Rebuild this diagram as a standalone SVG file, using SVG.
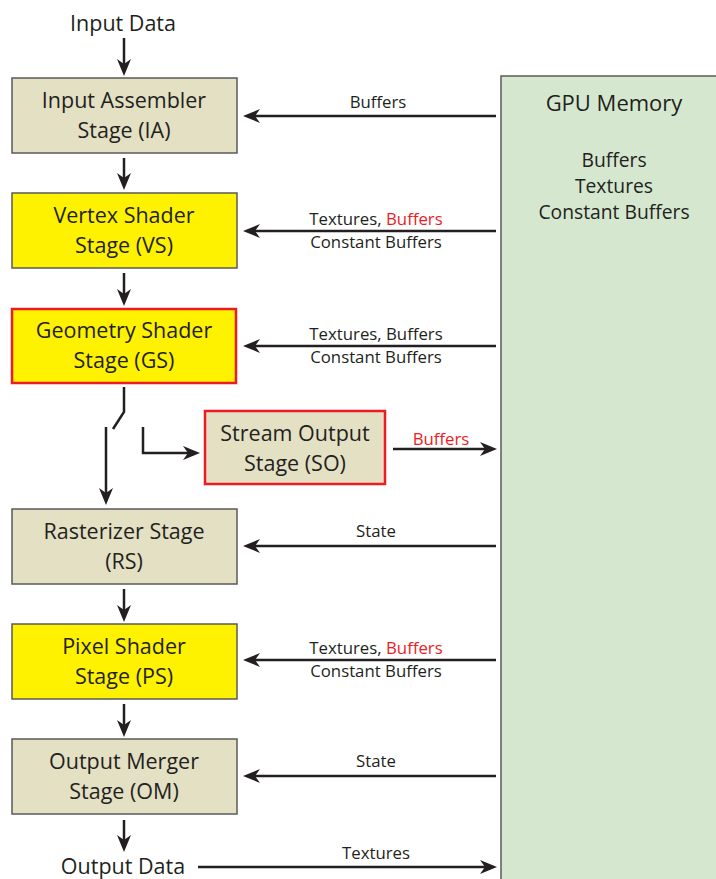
<svg xmlns="http://www.w3.org/2000/svg" width="716" height="879" viewBox="0 0 716 879">
  <style>
    text { font-family: "Open Sans", "Noto Sans", sans-serif; fill: #231f20; }
    .box { stroke: #5a5a5a; stroke-width: 1.5; }
    .tan { fill: #e3e0c4; }
    .yel { fill: #fff200; }
    .redb { stroke: #ed1c24; stroke-width: 2.5; }
    .t20 { font-size: 21.5px; text-anchor: middle; }
    .t16 { font-size: 16.8px; text-anchor: middle; }
    .mem { font-size: 19.3px; text-anchor: middle; }
    .red { fill: #ed1c24; }
    .ln { stroke: #231f20; stroke-width: 2.5; fill: none; }
    .arr { marker-end: url(#head); }
  </style>
  <defs>
    <marker id="head" markerUnits="userSpaceOnUse" markerWidth="18" markerHeight="16" viewBox="0 0 18 16" refX="10" refY="8" orient="auto">
      <path d="M0,1 L17,8 L0,15 L5,8 Z" fill="#231f20"/>
    </marker>
  </defs>

  <!-- memory block -->
  <g id="gpu-memory">
    <rect x="501" y="76" width="225" height="815" fill="#d5e8cf" stroke="#5a5a5a" stroke-width="1.5"/>
    <text x="614" y="111" style="font-size:22px;text-anchor:middle">GPU Memory</text>
    <text class="mem" x="614" y="167">Buffers</text>
    <text class="mem" x="614" y="193">Textures</text>
    <text class="mem" x="614" y="219">Constant Buffers</text>
  </g>

  <!-- pipeline stages -->
  <g id="input-data">
    <text class="t20" x="123" y="31">Input Data</text>
  </g>
  <g id="ia">
    <rect class="box tan" x="12" y="78" width="225" height="75"/>
    <text class="t20" x="124" y="108">Input Assembler</text>
    <text class="t20" x="124" y="138">Stage (IA)</text>
  </g>
  <g id="vs">
    <rect class="box yel" x="12" y="193" width="225" height="75"/>
    <text class="t20" x="124" y="223">Vertex Shader</text>
    <text class="t20" x="124" y="253">Stage (VS)</text>
  </g>
  <g id="gs">
    <rect class="yel redb" x="12" y="309" width="224" height="74"/>
    <text class="t20" x="124" y="338">Geometry Shader</text>
    <text class="t20" x="124" y="368">Stage (GS)</text>
  </g>
  <g id="so">
    <rect class="tan redb" x="205" y="411" width="180" height="73"/>
    <text class="t20" x="295" y="441">Stream Output</text>
    <text class="t20" x="295" y="471">Stage (SO)</text>
  </g>
  <g id="rs">
    <rect class="box tan" x="12" y="509" width="225" height="75"/>
    <text class="t20" x="124" y="539">Rasterizer Stage</text>
    <text class="t20" x="124" y="569">(RS)</text>
  </g>
  <g id="ps">
    <rect class="box yel" x="12" y="624" width="225" height="75"/>
    <text class="t20" x="124" y="654">Pixel Shader</text>
    <text class="t20" x="124" y="684">Stage (PS)</text>
  </g>
  <g id="om">
    <rect class="box tan" x="12" y="739" width="225" height="75"/>
    <text class="t20" x="124" y="769">Output Merger</text>
    <text class="t20" x="124" y="799">Stage (OM)</text>
  </g>
  <g id="output-data">
    <text class="t20" x="123" y="874">Output Data</text>
  </g>

  <!-- connectors -->
  <g id="connectors">
    <!-- vertical flow -->
    <line class="ln arr" x1="124" y1="38" x2="124" y2="69"/>
    <line class="ln arr" x1="124" y1="158" x2="124" y2="183"/>
    <line class="ln arr" x1="124" y1="273" x2="124" y2="299"/>
    <line class="ln arr" x1="124" y1="589" x2="124" y2="615"/>
    <line class="ln arr" x1="124" y1="704" x2="124" y2="730"/>
    <line class="ln arr" x1="124" y1="820" x2="124" y2="845"/>

    <!-- stream-output switch -->
    <polyline class="ln" points="124,387 124,412 113,429"/>
    <line class="ln arr" x1="106" y1="427" x2="106" y2="498"/>
    <polyline class="ln arr" points="143,427 143,453 193,453"/>

    <!-- memory reads -->
    <line class="ln arr" x1="496" y1="116" x2="250" y2="116"/>
    <line class="ln arr" x1="496" y1="231" x2="250" y2="231"/>
    <line class="ln arr" x1="496" y1="346" x2="250" y2="346"/>
    <line class="ln arr" x1="496" y1="546" x2="250" y2="546"/>
    <line class="ln arr" x1="496" y1="660" x2="250" y2="660"/>
    <line class="ln arr" x1="496" y1="776" x2="250" y2="776"/>

    <!-- memory writes -->
    <line class="ln arr" x1="393" y1="449" x2="490" y2="449"/>
    <line class="ln arr" x1="198" y1="867" x2="490" y2="867"/>

    <!-- connector labels -->
    <text class="t16" x="378" y="108">Buffers</text>
    <text class="t16" x="376" y="225">Textures, <tspan class="red">Buffers</tspan></text>
    <text class="t16" x="376" y="248">Constant Buffers</text>
    <text class="t16" x="376" y="340">Textures, Buffers</text>
    <text class="t16" x="376" y="363">Constant Buffers</text>
    <text class="t16 red" x="441" y="445">Buffers</text>
    <text class="t16" x="376" y="537">State</text>
    <text class="t16" x="376" y="654">Textures, <tspan class="red">Buffers</tspan></text>
    <text class="t16" x="376" y="677">Constant Buffers</text>
    <text class="t16" x="376" y="767">State</text>
    <text class="t16" x="376" y="859">Textures</text>
  </g>
</svg>
